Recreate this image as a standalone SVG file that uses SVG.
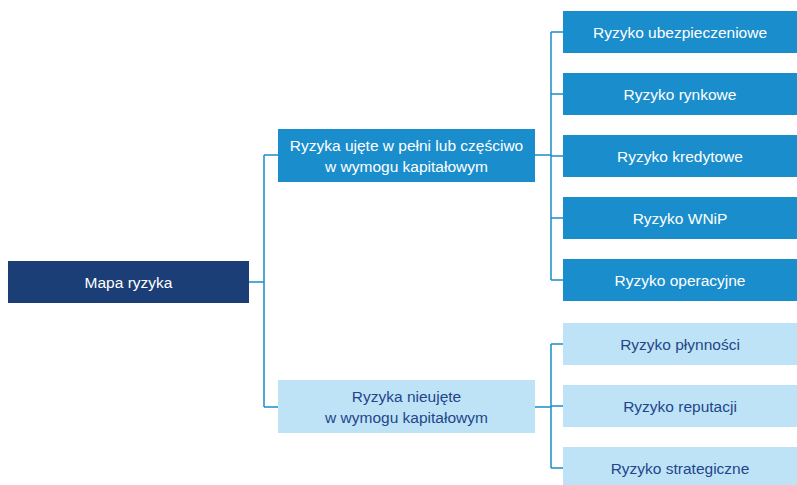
<svg xmlns="http://www.w3.org/2000/svg" width="797" height="485" viewBox="0 0 797 485">
<style>
.dark{fill:#1b3e77}
.mid{fill:#1a8dcc}
.light{fill:#bee3f7}
text{font-family:"Liberation Sans","Noto Sans",Arial,sans-serif;font-size:15.5px;text-anchor:middle;dominant-baseline:central}
.tw{fill:#ffffff}
.td{fill:#23468a}
.conn{fill:none;stroke:#1a8dcc;stroke-width:1.5}
</style>
<rect width="797" height="485" fill="#ffffff"/>
<g id="connectors" class="conn">
<path d="M249 282H264M264 155V407M264 155H278M264 407H278"/>
<path d="M535 155H551M551 32V280M551 32H563M551 94H563M551 156H563M551 218H563M551 280H563"/>
<path d="M535 407H551M551 344V468M551 344H563M551 406H563M551 468H563"/>
</g>
<g id="root"><rect class="dark" x="8" y="261" width="241" height="42"/><text class="tw" x="128.5" y="282">Mapa ryzyka</text></g>
<g id="captured"><rect class="mid" x="278" y="129" width="257" height="53"/><text class="tw" x="406.5" y="145">Ryzyka ujęte w pełni lub częściwo</text><text class="tw" x="406.5" y="166">w wymogu kapitałowym</text></g>
<g id="notcaptured"><rect class="light" x="278" y="380" width="257" height="53"/><text class="td" x="406.5" y="396">Ryzyka nieujęte</text><text class="td" x="406.5" y="417">w wymogu kapitałowym</text></g>
<g id="leaf1"><rect class="mid" x="563" y="11" width="234" height="42"/><text class="tw" x="680" y="32">Ryzyko ubezpieczeniowe</text></g>
<g id="leaf2"><rect class="mid" x="563" y="73" width="234" height="42"/><text class="tw" x="680" y="94">Ryzyko rynkowe</text></g>
<g id="leaf3"><rect class="mid" x="563" y="135" width="234" height="42"/><text class="tw" x="680" y="156">Ryzyko kredytowe</text></g>
<g id="leaf4"><rect class="mid" x="563" y="197" width="234" height="42"/><text class="tw" x="680" y="218">Ryzyko WNiP</text></g>
<g id="leaf5"><rect class="mid" x="563" y="259" width="234" height="42"/><text class="tw" x="680" y="280">Ryzyko operacyjne</text></g>
<g id="leaf6"><rect class="light" x="563" y="323" width="234" height="42"/><text class="td" x="680" y="344">Ryzyko płynności</text></g>
<g id="leaf7"><rect class="light" x="563" y="385" width="234" height="42"/><text class="td" x="680" y="406">Ryzyko reputacji</text></g>
<g id="leaf8"><rect class="light" x="563" y="447" width="234" height="42"/><text class="td" x="680" y="468">Ryzyko strategiczne</text></g>
</svg>
